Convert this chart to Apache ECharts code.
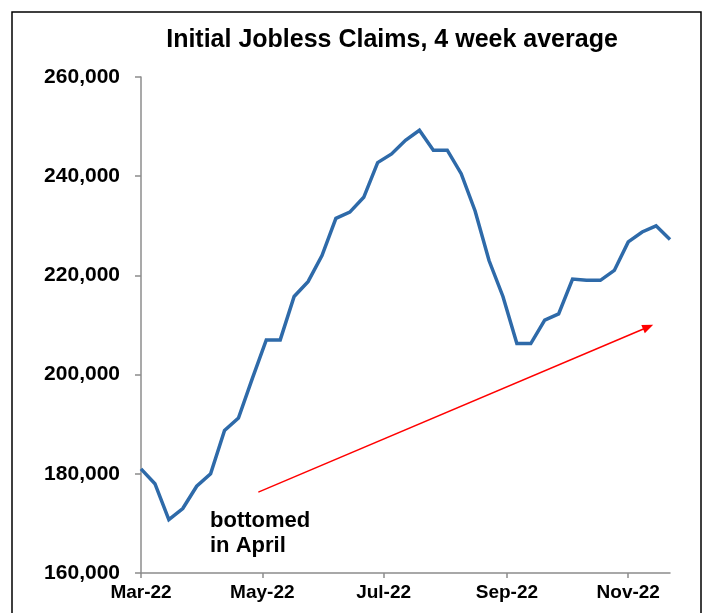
<!DOCTYPE html>
<html>
<head>
<meta charset="utf-8">
<script src="https://cdn.jsdelivr.net/npm/echarts@6/dist/echarts.min.js"></script>
<style>
  html, body { margin: 0; padding: 0; background: #fff; }
  #chart { width: 711px; height: 613px; }
</style>
</head>
<body>
<div id="chart"></div>
<script>
// Week-ending dates (weekly)
const weekDates = [
  '2022-03-19','2022-03-26','2022-04-02','2022-04-09','2022-04-16','2022-04-23','2022-04-30',
  '2022-05-07','2022-05-14','2022-05-21','2022-05-28','2022-06-04','2022-06-11','2022-06-18',
  '2022-06-25','2022-07-02','2022-07-09','2022-07-16','2022-07-23','2022-07-30','2022-08-06',
  '2022-08-13','2022-08-20','2022-08-27','2022-09-03','2022-09-10','2022-09-17','2022-09-24',
  '2022-10-01','2022-10-08','2022-10-15','2022-10-22','2022-10-29','2022-11-05','2022-11-12',
  '2022-11-19','2022-11-26','2022-12-03','2022-12-10'
];
// Initial jobless claims, 4 week average
const claims4wk = [
  181000,178000,170750,173000,177500,180000,188750,
  191250,199250,207000,207000,215750,218750,224000,
  231500,232750,235750,242750,244500,247250,249250,
  245250,245250,240500,233000,223000,215750,206250,
  206250,211000,212250,219250,219000,219000,221000,
  226750,228750,230000,227250
];
// Axis tick positions (Excel date axis: every 2 months from first date)
const xTickDates = ['2022-03-19','2022-05-19','2022-07-19','2022-09-19','2022-11-19'];
const yTicks = [160000, 180000, 200000, 220000, 240000, 260000];
// Trend arrow annotation (date, value)
const arrowStart = ['2022-05-17', 176300];
const arrowEnd = ['2022-11-29', 209600];
const noteText = ['bottomed', 'in April'];

const monthNames = ['Jan','Feb','Mar','Apr','May','Jun','Jul','Aug','Sep','Oct','Nov','Dec'];
const ts = s => new Date(s + 'T00:00:00Z').getTime();

const chart = echarts.init(document.getElementById('chart'));
const FONT = '"Liberation Sans", Arial, sans-serif';

chart.setOption({
  animation: false,
  backgroundColor: '#ffffff',
  title: {
    text: 'Initial Jobless Claims, 4 week average',
    left: 387,
    top: 23,
    textAlign: 'center',
    textStyle: { fontFamily: FONT, fontWeight: 'bold', fontSize: 25, color: '#000' }
  },
  grid: { left: 141, top: 77, width: 529, height: 496, containLabel: false },
  xAxis: {
    type: 'value',
    min: ts(weekDates[0]),
    max: ts(weekDates[weekDates.length - 1]),
    splitLine: { show: false },
    axisLine: { lineStyle: { color: '#8c8c8c', width: 1.5 } },
    axisTick: { show: true, length: 5, lineStyle: { color: '#8c8c8c', width: 1.5 },
      customValues: xTickDates.map(ts) },
    axisLabel: {
      customValues: xTickDates.map(ts),
      margin: 10,
      showMinLabel: true,
      fontFamily: FONT, fontWeight: 'bold', fontSize: 19, color: '#000',
      formatter: v => {
        const d = new Date(v);
        return monthNames[d.getUTCMonth()] + '-' + String(d.getUTCFullYear()).slice(2);
      }
    }
  },
  yAxis: {
    type: 'value',
    min: yTicks[0],
    max: yTicks[yTicks.length - 1],
    interval: 20000,
    splitLine: { show: false },
    axisLine: { show: true, lineStyle: { color: '#8c8c8c', width: 1.5 } },
    axisTick: { show: true, length: 6, lineStyle: { color: '#8c8c8c', width: 1.5 } },
    axisLabel: {
      margin: 21,
      fontFamily: FONT, fontWeight: 'bold', fontSize: 21, color: '#000',
      formatter: v => v.toLocaleString('en-US')
    }
  },
  series: [{
    type: 'line',
    data: weekDates.map((d, i) => [ts(d), claims4wk[i]]),
    showSymbol: false,
    symbol: 'none',
    lineStyle: { color: '#2e6aa9', width: 3.5, join: 'miter' },
    markLine: {
      silent: true,
      symbol: ['none', 'triangle'],
      symbolSize: [9, 11],
      label: { show: false },
      lineStyle: { color: '#ff0000', width: 1.5, type: 'solid' },
      data: [[
        { coord: [ts(arrowStart[0]), arrowStart[1]] },
        { coord: [ts(arrowEnd[0]), arrowEnd[1]] }
      ]]
    }
  }],
  graphic: [
    {
      type: 'rect',
      shape: { x: 12, y: 12, width: 689, height: 640 },
      style: { fill: 'none', stroke: '#000', lineWidth: 1.5 },
      silent: true
    },
    {
      type: 'text',
      left: 210,
      top: 508,
      style: {
        text: noteText.join('\n'),
        fontFamily: FONT, fontWeight: 'bold', fontSize: 22, lineHeight: 25, fill: '#000'
      }
    }
  ]
});
</script>
</body>
</html>
